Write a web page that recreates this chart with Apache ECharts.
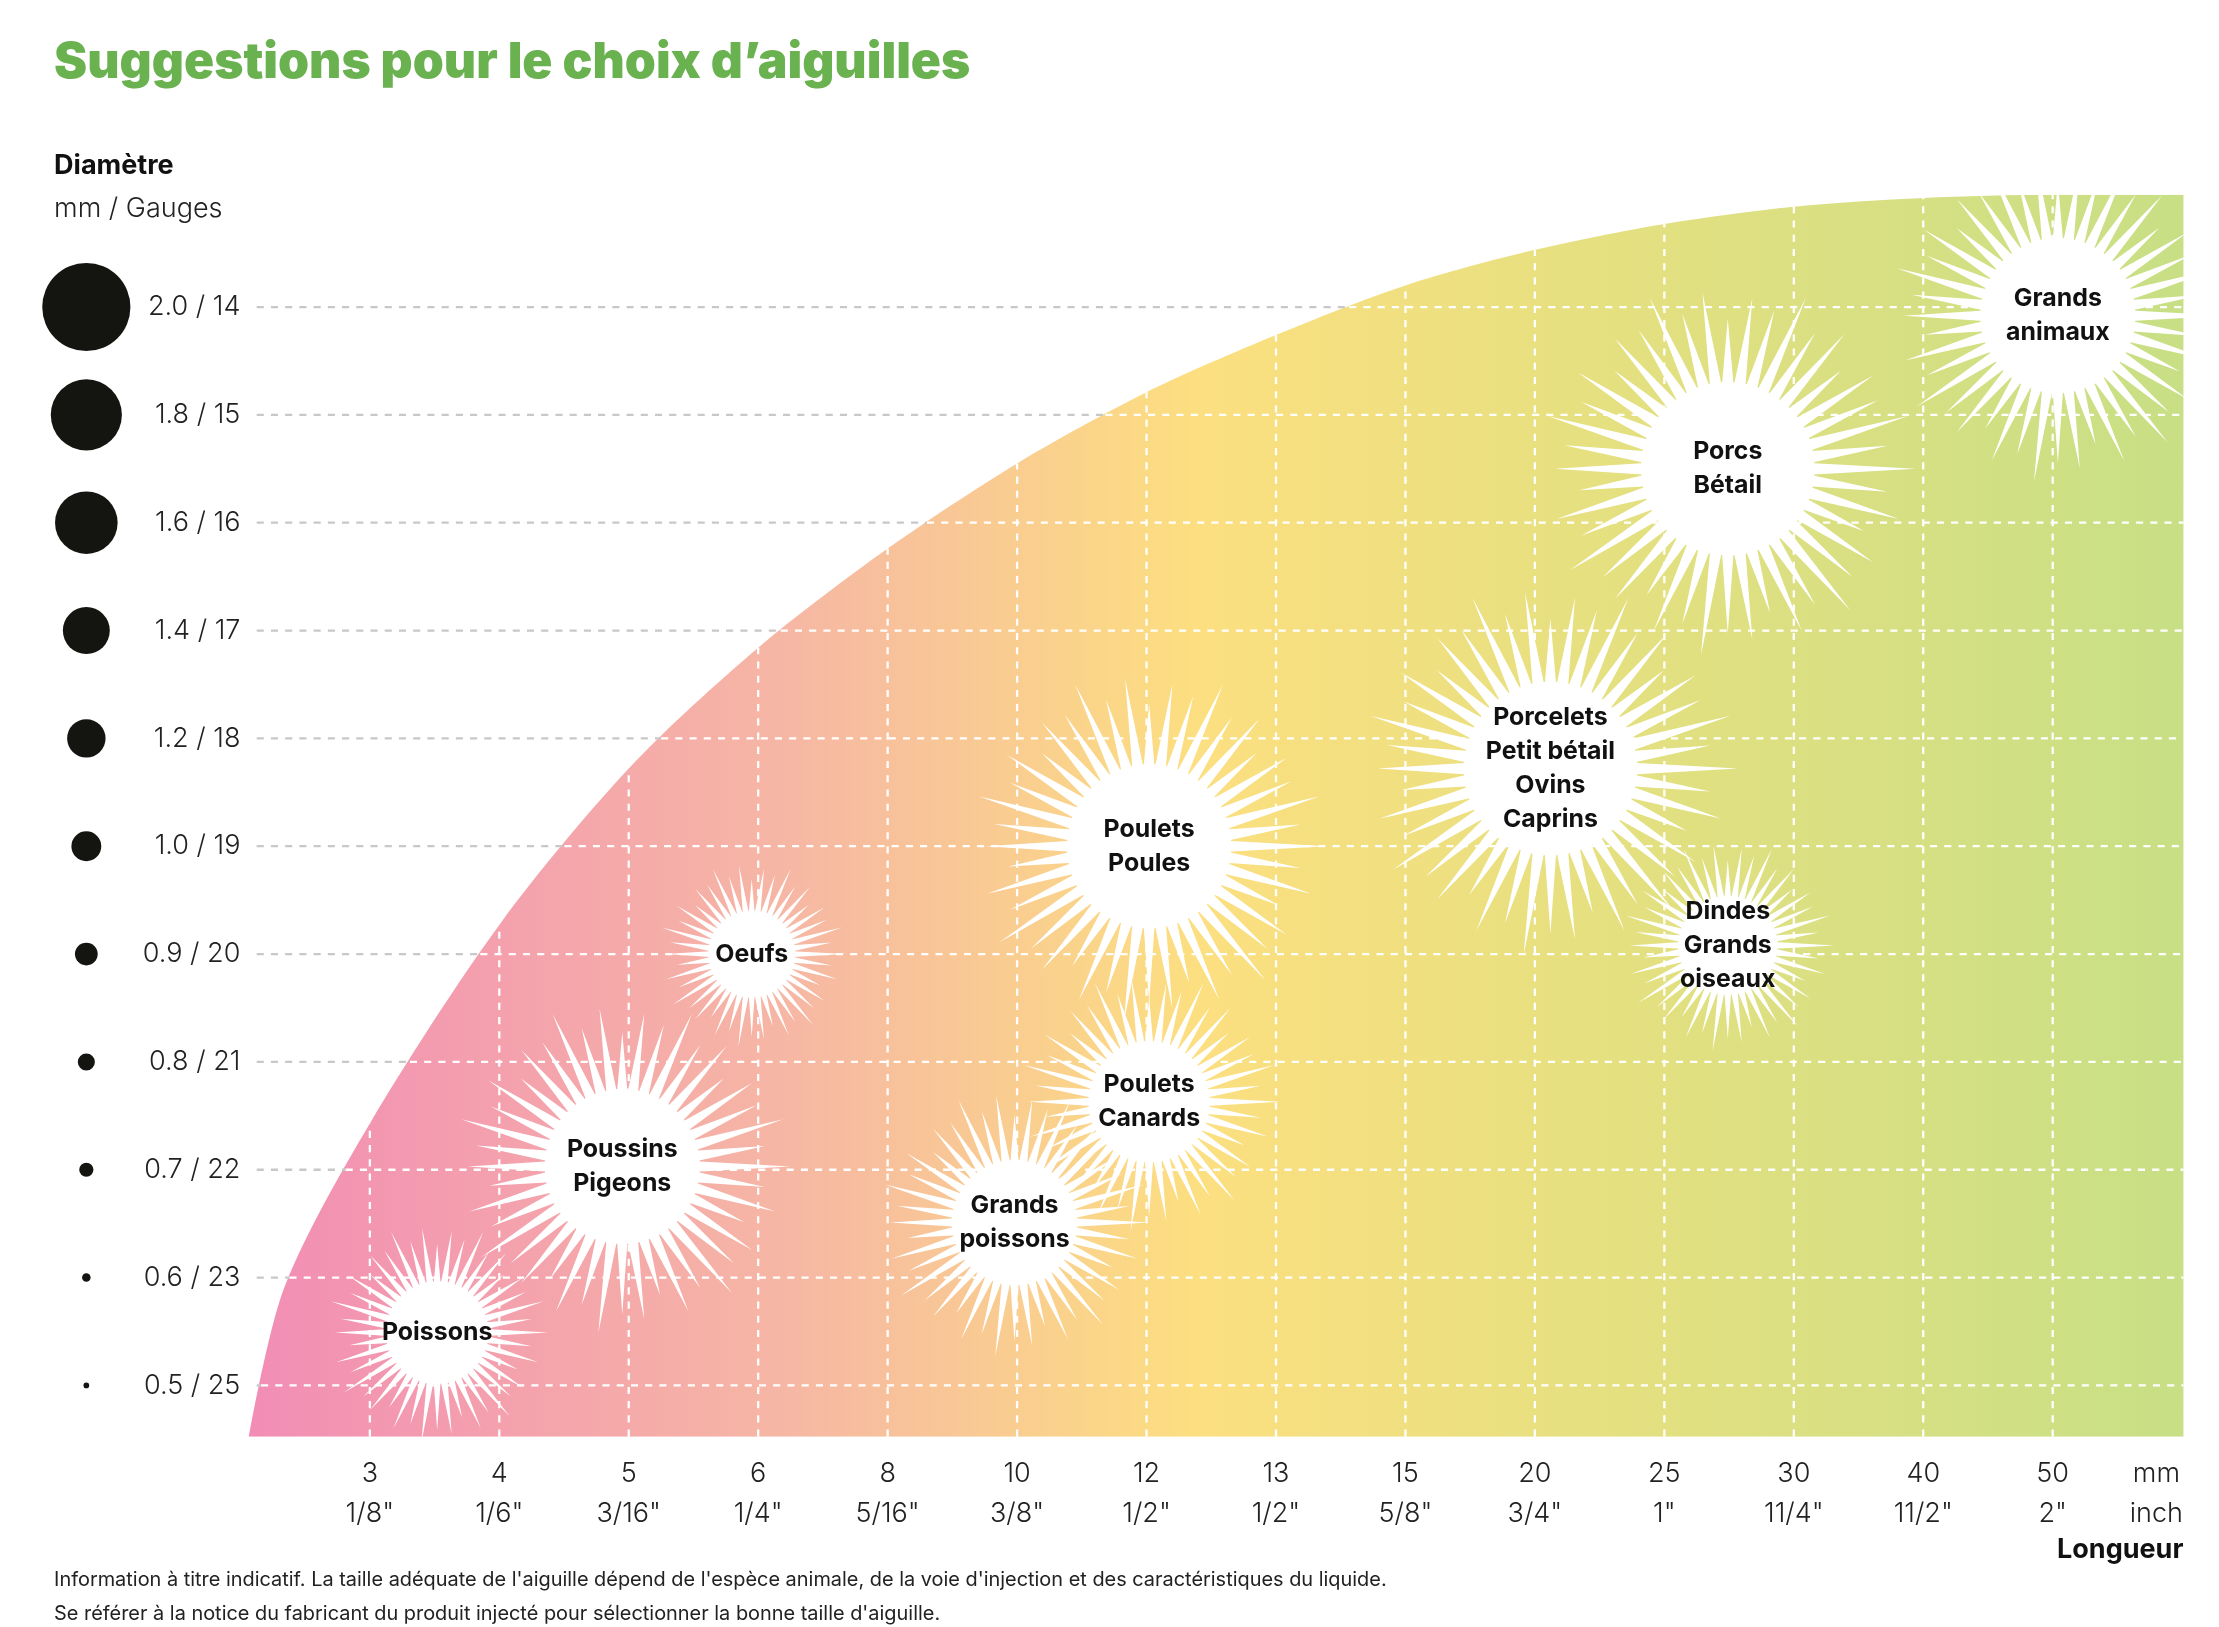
<!DOCTYPE html>
<html><head><meta charset="utf-8">
<script src="https://cdn.jsdelivr.net/npm/echarts@6/dist/echarts.min.js"></script>
<style>html,body{margin:0;background:#fff}#chart{width:2219px;height:1627px}</style>
</head><body><div id="chart"></div>
<script>
(function(){
  const S = 2219 / 1560; // layout was measured on a 1560px wide copy
  const s = v => v * S;

  // length ticks (x index 1..14)
  const lengthMm   = ['3','4','5','6','8','10','12','13','15','20','25','30','40','50'];
  const lengthInch = ['1/8"','1/6"','3/16"','1/4"','5/16"','3/8"','1/2"','1/2"','5/8"','3/4"','1"','11/4"','11/2"','2"'];
  // diameter ticks (y index 0..10)
  const diamLabels = ['0.5 / 25','0.6 / 23','0.7 / 22','0.8 / 21','0.9 / 20','1.0 / 19','1.2 / 18','1.4 / 17','1.6 / 16','1.8 / 15','2.0 / 14'];
  const dotSizes   = [4, 6, 10, 12, 16, 21, 27, 33, 44, 50, 62];

  // upper edge of the coloured area (x index, y index)
  const edgeX = [0.066, 0.34, 1, 2, 3, 4, 5, 6, 7, 8, 9, 10, 11, 12, 13, 14, 15.01];
  const edgeY = [-0.475, 0.91, 2.43, 4.27, 5.72, 6.84, 7.76, 8.55, 9.21, 9.74, 10.2, 10.53, 10.77, 10.93, 11.01, 11.04, 11.04];

  // suggestions: x index, y index, burst radius (px on 1560 copy), text
  const burstX = [1.52, 2.95, 3.95, 5.98, 7.02, 7.02, 10.12, 11.49, 11.49, 14.04];
  const burstY = [0.49, 2.03, 4.0, 1.51, 2.63, 5.0, 5.72, 4.08, 8.5, 9.92];
  const burstR = [78, 118, 66, 95, 92, 125, 132, 75, 132, 118];
  const burstText = ['Poissons', 'Poussins\nPigeons', 'Oeufs', 'Grands\npoissons', 'Poulets\nCanards',
    'Poulets\nPoules', 'Porcelets\nPetit bétail\nOvins\nCaprins', 'Dindes\nGrands\noiseaux', 'Porcs\nBétail', 'Grands\nanimaux'];

  const XMIN = 0.066, XMAX = 15.01, YMIN = -0.475, YMAX = 11.04;
  const xTicks = lengthMm.map((_, i) => i + 1);
  const yTicks = diamLabels.map((_, i) => i);

  function edgeXAt(y){ // where a horizontal line meets the edge
    for (let i = 1; i < edgeY.length; i++) {
      if (y <= edgeY[i]) {
        const t = (y - edgeY[i-1]) / (edgeY[i] - edgeY[i-1]);
        return edgeX[i-1] + t * (edgeX[i] - edgeX[i-1]);
      }
    }
    return XMAX;
  }

  const gridSegs = [];
  yTicks.forEach(i => {
    const ex = edgeXAt(i);
    gridSegs.push([XMIN + 0.06, i, ex, i, 0]);
    gridSegs.push([ex, i, XMAX, i, 1]);
  });
  xTicks.forEach(i => gridSegs.push([i, YMIN, i, edgeY[i + 1], 1]));

  const chart = echarts.init(document.getElementById('chart'));
  const FONT = 'Inter';

  chart.setOption({
    backgroundColor: '#fff',
    animation: false,
    grid: { left: s(175), right: 2219 - s(1535), top: s(137), bottom: 1627 - s(1010) },
    xAxis: {
      type: 'value', min: XMIN, max: XMAX,
      splitLine: { show: false }, axisLine: { show: false }, axisTick: { show: false },
      axisLabel: {
        customValues: xTicks, showMinLabel: true, showMaxLabel: true,
        margin: s(12), fontFamily: FONT, fontWeight: 300, fontSize: s(19), color: '#222', lineHeight: s(28),
        formatter: v => lengthMm[Math.round(v) - 1] + '\n' + lengthInch[Math.round(v) - 1]
      }
    },
    yAxis: {
      type: 'value', min: YMIN, max: YMAX,
      splitLine: { show: false }, axisLine: { show: false }, axisTick: { show: false },
      axisLabel: {
        customValues: yTicks,
        margin: s(6), fontFamily: FONT, fontWeight: 300, fontSize: s(19), color: '#222',
        formatter: v => diamLabels[Math.round(v)]
      }
    },
    series: [
      {
        type: 'line', data: edgeX.map((x, i) => [x, edgeY[i]]), showSymbol: false, smooth: 0.3,
        lineStyle: { width: 0 }, z: 1,
        areaStyle: { origin: 'start', opacity: 1, color: new echarts.graphic.LinearGradient(0, 0, 1, 0, [
          { offset: 0, color: '#f28db5' }, { offset: 0.28, color: '#f6b7a4' },
          { offset: 0.49, color: '#fcdf80' }, { offset: 0.7, color: '#e5e080' }, { offset: 1, color: '#c8df85' }
        ]) }
      },
      {
        type: 'custom', z: 2, data: gridSegs,
        renderItem: (p, api) => {
          const a = api.coord([api.value(0), api.value(1)]);
          const b = api.coord([api.value(2), api.value(3)]);
          const white = api.value(4) === 1;
          return { type: 'line', shape: { x1: a[0], y1: a[1], x2: b[0], y2: b[1] },
            style: { stroke: white ? '#fff' : '#c8c8c8', lineWidth: s(1.6), lineDash: [s(5), s(5)] } };
        }
      },
      {
        type: 'scatter', clip: false, z: 3, symbol: 'circle',
        data: dotSizes.map((d, i) => [-1.19, i]),
        symbolSize: (v, p) => s(dotSizes[p.dataIndex]),
        itemStyle: { color: '#141410', opacity: 1 }
      },
      {
        type: 'custom', z: 4, clip: false,
        data: burstX.map((x, i) => [x, burstY[i], burstR[i], i]),
        renderItem: (p, api) => {
          const c = api.coord([api.value(0), api.value(1)]);
          const R = s(api.value(2)), r = R * 0.44;
          const n = 44, pts = [];
          const lens = [1, 0.86, 0.95, 0.8, 0.92, 0.88];
          for (let k = 0; k < n; k++) {
            const a0 = (k / n) * Math.PI * 2;
            const a1 = ((k + 0.5) / n) * Math.PI * 2;
            const L = R * lens[k % lens.length];
            pts.push([c[0] + L * Math.cos(a0), c[1] + L * Math.sin(a0)]);
            pts.push([c[0] + r * Math.cos(a1), c[1] + r * Math.sin(a1)]);
          }
          return { type: 'group', children: [
            { type: 'polygon', shape: { points: pts }, style: { fill: '#fff' } },
            { type: 'circle', shape: { cx: c[0], cy: c[1], r: r * 1.05 }, style: { fill: '#fff' } },
            { type: 'text', x: c[0], y: c[1], style: {
              text: burstText[api.value(3)], align: 'center', verticalAlign: 'middle',
              fontFamily: FONT, fontWeight: 'bold', fontSize: s(17.5), lineHeight: s(24), fill: '#111' } }
          ] };
        }
      }
    ],
    graphic: [
      { type: 'text', left: s(38), top: s(27), style: { text: 'Suggestions pour le choix d’aiguilles',
        fontFamily: FONT, fontWeight: 900, fontSize: s(35), fill: '#6ab150' } },
      { type: 'text', left: s(38), top: s(107), style: { text: 'Diamètre', fontFamily: FONT, fontWeight: 'bold', fontSize: s(19), fill: '#111' } },
      { type: 'text', left: s(38), top: s(137), style: { text: 'mm / Gauges', fontFamily: FONT, fontWeight: 300, fontSize: s(19), fill: '#222' } },
      { type: 'text', x: s(1516), y: s(1022), style: { text: 'mm\ninch', align: 'center', fontFamily: FONT, fontWeight: 300, fontSize: s(19), lineHeight: s(28), fill: '#222' } },
      { type: 'text', x: s(1535), y: s(1080), style: { text: 'Longueur', align: 'right', fontFamily: FONT, fontWeight: 'bold', fontSize: s(19), fill: '#111' } },
      { type: 'text', left: s(38), top: s(1099), style: {
        text: "Information à titre indicatif. La taille adéquate de l'aiguille dépend de l'espèce animale, de la voie d'injection et des caractéristiques du liquide.\nSe référer à la notice du fabricant du produit injecté pour sélectionner la bonne taille d'aiguille.",
        fontFamily: FONT, fontSize: s(14), lineHeight: s(24), fill: '#222' } }
    ]
  });
})();
</script>
</body></html>
